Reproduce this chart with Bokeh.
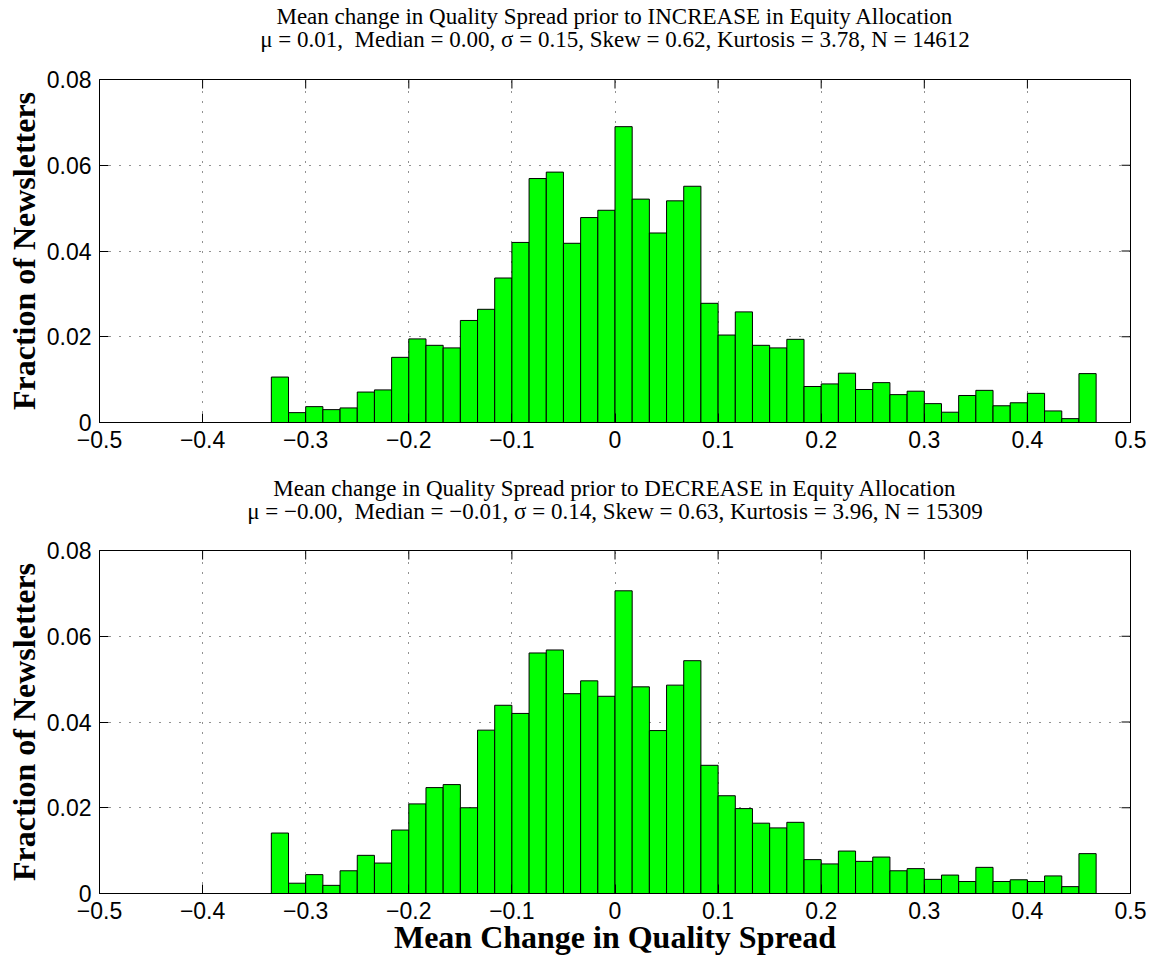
import math
from bokeh.plotting import figure
from bokeh.layouts import column
from bokeh.models import Range1d, FixedTicker, ColumnDataSource
from bokeh.core.properties import value
from bokeh.embed import file_html
from bokeh.resources import INLINE

# ---- data -------------------------------------------------------------
bin_start = -1.0 / 3.0
bin_width = 1.0 / 60.0

increase_frac = [
    0.0106, 0.0023, 0.0037, 0.0030, 0.0034, 0.0071, 0.0076, 0.0152,
    0.0195, 0.0180, 0.0174, 0.0238, 0.0264, 0.0337, 0.0420, 0.0569,
    0.0584, 0.0418, 0.0478, 0.0495, 0.0690, 0.0521, 0.0442, 0.0517,
    0.0551, 0.0278, 0.0204, 0.0258, 0.0180, 0.0174, 0.0194, 0.0084,
    0.0090, 0.0115, 0.0077, 0.0093, 0.0065, 0.0073, 0.0044, 0.0024,
    0.0063, 0.0075, 0.0039, 0.0046, 0.0068, 0.0027, 0.0009, 0.0114,
]

decrease_frac = [
    0.0141, 0.0024, 0.0044, 0.0019, 0.0053, 0.0089, 0.0071, 0.0148,
    0.0209, 0.0247, 0.0254, 0.0200, 0.0381, 0.0439, 0.0420, 0.0561,
    0.0568, 0.0466, 0.0496, 0.0460, 0.0706, 0.0482, 0.0380, 0.0486,
    0.0543, 0.0299, 0.0228, 0.0198, 0.0164, 0.0153, 0.0166, 0.0079,
    0.0069, 0.0099, 0.0075, 0.0085, 0.0053, 0.0058, 0.0033, 0.0043,
    0.0028, 0.0061, 0.0028, 0.0032, 0.0028, 0.0041, 0.0016, 0.0093,
]

x_ticks = [-0.5, -0.4, -0.3, -0.2, -0.1, 0.0, 0.1, 0.2, 0.3, 0.4, 0.5]
x_tick_labels = ["\u22120.5", "\u22120.4", "\u22120.3", "\u22120.2", "\u22120.1",
                 "0", "0.1", "0.2", "0.3", "0.4", "0.5"]
y_ticks = [0.0, 0.02, 0.04, 0.06, 0.08]
y_tick_labels = ["0", "0.02", "0.04", "0.06", "0.08"]

titles_increase = [
    "Mean change in Quality Spread prior to INCREASE in Equity Allocation",
    "\u03bc = 0.01,\u00a0 Median = 0.00, \u03c3 = 0.15, Skew = 0.62, Kurtosis = 3.78, N = 14612",
]
titles_decrease = [
    "Mean change in Quality Spread prior to DECREASE in Equity Allocation",
    "\u03bc = \u22120.00,\u00a0 Median = \u22120.01, \u03c3 = 0.14, Skew = 0.63, Kurtosis = 3.96, N = 15309",
]
y_label = "Fraction of Newsletters"
x_label = "Mean Change in Quality Spread"

SANS = "Liberation Sans"
SERIF = "Liberation Serif"

W = 1149
FRAME_LEFT = 99
FRAME_RIGHT = 1130
X_MIN, X_MAX = -0.5, 0.5


def make_title(lines, height, baselines):
    # same horizontal frame as the panels, so x = centre of the data range
    t = figure(width=W, height=height, x_range=Range1d(X_MIN, X_MAX), y_range=Range1d(height, 0),
               output_backend="svg", toolbar_location=None, title_location=None,
               x_axis_location=None, y_axis_location=None,
               min_border=0, min_border_left=FRAME_LEFT, min_border_right=W - FRAME_RIGHT,
               min_border_top=0, min_border_bottom=0)
    t.outline_line_color = None
    t.grid.visible = False
    t.background_fill_color = "white"
    t.border_fill_color = "white"
    centre = (X_MIN + X_MAX) / 2.0
    t.text(x=[centre] * len(lines), y=baselines, text=lines,
           text_font=value(SERIF), text_font_size="23px", text_color="black",
           text_align="center", text_baseline="alphabetic")
    return t


def make_panel(values, height, top_border, bottom_border, xlabel=None):
    left = [bin_start + i * bin_width for i in range(len(values))]
    right = [l + bin_width for l in left]
    src = ColumnDataSource(dict(left=left, right=right, top=values))

    p = figure(width=W, height=height,
               x_range=Range1d(X_MIN, X_MAX), y_range=Range1d(0, 0.08),
               output_backend="svg", toolbar_location=None, title_location=None,
               min_border_left=FRAME_LEFT, min_border_right=W - FRAME_RIGHT,
               min_border_top=top_border, min_border_bottom=bottom_border)
    p.background_fill_color = "white"
    p.border_fill_color = "white"
    p.outline_line_color = "black"
    p.outline_line_width = 1
    p.outline_line_alpha = 1.0

    p.xgrid.ticker = FixedTicker(ticks=x_ticks[1:-1])
    p.ygrid.ticker = FixedTicker(ticks=y_ticks[1:-1])
    p.grid.grid_line_color = "#222222"
    p.grid.grid_line_width = 1
    p.grid.grid_line_dash = "1 9"

    p.quad(left="left", right="right", bottom=0, top="top", source=src,
           fill_color="#00ff00", line_color="black", line_width=1)

    # inward ticks on the top and right edges (clipped to the frame)
    p.scatter(x=x_ticks, y=[y_ticks[-1]] * len(x_ticks), marker="dash", size=18,
              angle=math.pi / 2, line_color="black", line_width=1)
    p.scatter(x=[x_ticks[-1]] * len(y_ticks), y=y_ticks, marker="dash", size=18,
              angle=0, line_color="black", line_width=1)

    xax = p.below[0]
    yax = p.left[0]
    xax.ticker = FixedTicker(ticks=x_ticks)
    xax.major_label_overrides = dict(zip(x_ticks, x_tick_labels))
    yax.ticker = FixedTicker(ticks=y_ticks)
    yax.major_label_overrides = dict(zip(y_ticks, y_tick_labels))
    for ax in (xax, yax):
        ax.major_tick_in = 9
        ax.major_tick_out = 0
        ax.minor_tick_in = 0
        ax.minor_tick_out = 0
        ax.axis_line_color = "black"
        ax.major_tick_line_color = "black"
        ax.major_label_text_font = SANS
        ax.major_label_text_font_size = "23px"
        ax.major_label_text_color = "black"
        ax.major_label_standoff = 8
    yax.axis_label = y_label
    yax.axis_label_text_font = SERIF
    yax.axis_label_text_font_style = "bold"
    yax.axis_label_text_font_size = "32px"
    yax.axis_label_text_color = "black"
    yax.axis_label_standoff = 2
    if xlabel:
        xax.axis_label = xlabel
        xax.axis_label_text_font = SERIF
        xax.axis_label_text_font_style = "bold"
        xax.axis_label_text_font_size = "32px"
        xax.axis_label_text_color = "black"
        xax.axis_label_standoff = -3
    return p


t1 = make_title(titles_increase, 66, [15.5, 38.5])
p1 = make_panel(increase_frac, height=394, top_border=13, bottom_border=38)
t2 = make_title(titles_decrease, 77, [28.0, 51.0])
p2 = make_panel(decrease_frac, height=422, top_border=13, bottom_border=66, xlabel=x_label)

layout = column(t1, p1, t2, p2, spacing=0)

with open("out.html", "w") as f:
    f.write(file_html(layout, INLINE))
